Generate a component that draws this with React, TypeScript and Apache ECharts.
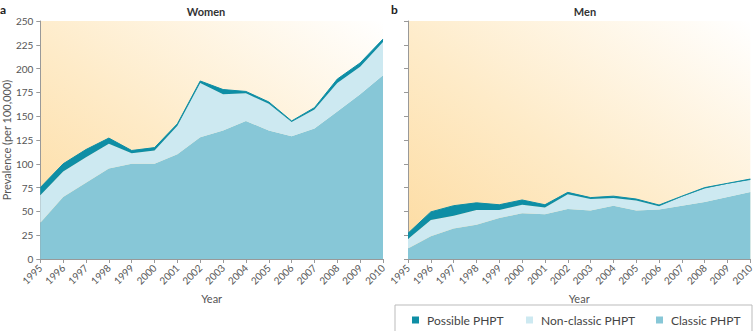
import React, { useEffect, useRef } from "react";
import * as echarts from "echarts";

const years = ["1995","1996","1997","1998","1999","2000","2001","2002","2003","2004","2005","2006","2007","2008","2009","2010"];
const yTicks = [0, 25, 50, 75, 100, 125, 150, 175, 200, 225, 250];
const legendNames = ["Possible PHPT", "Non-classic PHPT", "Classic PHPT"];

// Women (per 100,000)
const womenClassic = [38, 65, 80, 95, 100, 100, 110, 128, 135, 145, 135, 129, 137, 155, 173, 193];
const womenNonClassic = [29, 27, 27, 26, 11, 14, 30, 57, 38, 29, 28, 15, 20, 30, 29, 35];
const womenPossible = [8, 8, 8, 6, 3, 3, 2, 2, 5, 2, 2, 1, 2, 4, 4, 3];

// Men (per 100,000)
const menClassic = [11, 24, 32, 36, 43, 48, 47, 52.5, 51, 56, 51, 52, 56, 60, 65, 70.5];
const menNonClassic = [10, 17, 13.5, 15.5, 8.5, 9, 7, 15.5, 12, 8, 10.5, 3.5, 9.5, 14, 14, 12.5];
const menPossible = [6, 8.5, 10.5, 7.5, 5.5, 5, 3, 2, 1.5, 2, 1.5, 1.2, 0.5, 1, 0.5, 1];

const C_CLASSIC = "#87c7d7";
const C_NONCLASSIC = "#cde9f1";
const C_POSSIBLE = "#0e8ea5";
const FONT = "Lato";

export default function App() {
  const ref = useRef<HTMLDivElement>(null);
  useEffect(() => {
    if (!ref.current) return;
    const chart = echarts.init(ref.current, undefined, { renderer: "svg" });
    const bg = new echarts.graphic.LinearGradient(0, 1, 1, 0, [
      { offset: 0, color: "#fddba0" },
      { offset: 0.45, color: "#feebc8" },
      { offset: 1, color: "#ffffff" },
    ]);
    const grids = [
      { left: 39, right: 373, top: 21, bottom: 72, show: true, borderWidth: 0, backgroundColor: bg },
      { left: 408, right: 4, top: 21, bottom: 72, show: true, borderWidth: 0, backgroundColor: bg },
    ];
    const xAxis = [0, 1].map((i) => ({
      type: "category",
      gridIndex: i,
      data: years,
      boundaryGap: false,
      name: "Year",
      nameLocation: "middle",
      nameGap: 31,
      nameTextStyle: { fontFamily: FONT, fontSize: 11, color: "#555" },
      axisLine: { lineStyle: { color: "#999" } },
      axisTick: { show: true, length: 4, alignWithLabel: true, lineStyle: { color: "#999" } },
      axisLabel: { rotate: 45, fontFamily: FONT, fontSize: 10, color: "#555", margin: 7, interval: 0 },
      splitLine: { show: false },
    }));
    const yAxis = [0, 1].map((i) => ({
      type: "value",
      gridIndex: i,
      min: 0,
      max: 250,
      interval: 25,
      name: i === 0 ? "Prevalence (per 100,000)" : "",
      nameLocation: "middle",
      nameGap: 28,
      nameTextStyle: { fontFamily: FONT, fontSize: 11, color: "#555" },
      axisLine: { show: true, lineStyle: { color: "#999" } },
      axisTick: { show: true, length: 4, lineStyle: { color: "#999" } },
      axisLabel: {
        show: i === 0,
        fontFamily: FONT,
        fontSize: 10,
        color: "#555",
        margin: 7,
        formatter: (v: number) => (yTicks.includes(v) ? String(v) : ""),
      },
      splitLine: { show: false },
    }));
    const mk = (name: string, data: number[], idx: number, color: string, stack: string, lineW: number) => ({
      name,
      type: "line",
      xAxisIndex: idx,
      yAxisIndex: idx,
      stack,
      data,
      symbol: "none",
      lineStyle: { width: lineW, color: C_POSSIBLE },
      areaStyle: { color, opacity: 1 },
      itemStyle: { color },
    });
    const legendLefts = [412, 526, 656];
    chart.setOption({
      animation: false,
      textStyle: { fontFamily: FONT },
      grid: grids,
      xAxis,
      yAxis,
      series: [
        mk("Classic PHPT", womenClassic, 0, C_CLASSIC, "w", 0),
        mk("Non-classic PHPT", womenNonClassic, 0, C_NONCLASSIC, "w", 0),
        mk("Possible PHPT", womenPossible, 0, C_POSSIBLE, "w", 1),
        mk("Classic PHPT", menClassic, 1, C_CLASSIC, "m", 0),
        mk("Non-classic PHPT", menNonClassic, 1, C_NONCLASSIC, "m", 0),
        mk("Possible PHPT", menPossible, 1, C_POSSIBLE, "m", 1),
      ],
      legend: legendNames.map((n, i) => ({
        data: [n],
        left: legendLefts[i],
        top: 314,
        padding: 0,
        itemWidth: 7,
        itemHeight: 7,
        icon: "rect",
        textStyle: { fontFamily: FONT, fontSize: 12, color: "#444", padding: [0, 0, 0, 3] },
      })),
      graphic: [
        { type: "rect", shape: { x: 395, y: 305, width: 357, height: 40 }, style: { fill: "none", stroke: "#bbb", lineWidth: 1 }, silent: true },
        { type: "text", x: 206, y: 11, style: { text: "Women", fontFamily: FONT, fontSize: 11, fontWeight: "bold", fill: "#333", textAlign: "center", textVerticalAlign: "middle" } },
        { type: "text", x: 585, y: 11, style: { text: "Men", fontFamily: FONT, fontSize: 11, fontWeight: "bold", fill: "#333", textAlign: "center", textVerticalAlign: "middle" } },
        { type: "text", x: 0, y: 9, style: { text: "a", fontFamily: FONT, fontSize: 12, fontWeight: "bold", fill: "#222", textVerticalAlign: "middle" } },
        { type: "text", x: 391, y: 9, style: { text: "b", fontFamily: FONT, fontSize: 12, fontWeight: "bold", fill: "#222", textVerticalAlign: "middle" } },
      ],
    });
    return () => chart.dispose();
  }, []);
  return <div ref={ref} style={{ width: 756, height: 331, position: "absolute", left: 0, top: 0 }} />;
}
